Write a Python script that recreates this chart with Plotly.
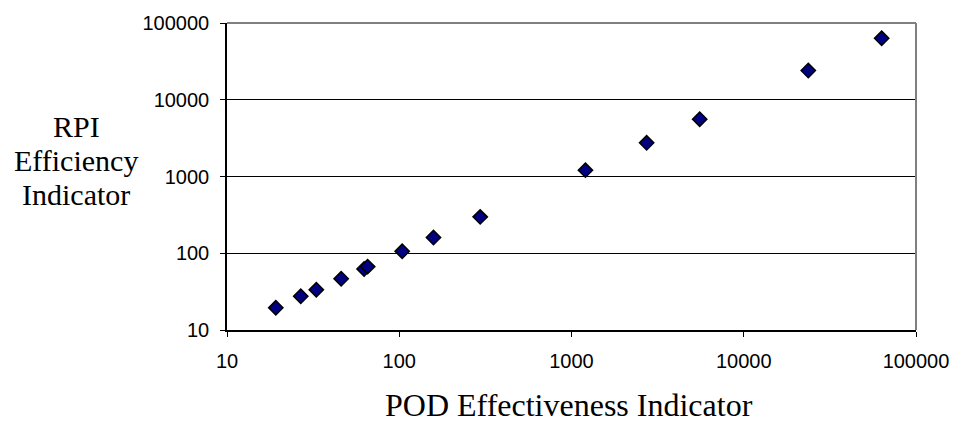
import plotly.graph_objects as go

# POD effectiveness vs RPI efficiency indicator values
pod_effectiveness = [19.2, 26.8, 33, 46, 62.5, 65.5, 104, 158, 295, 1205, 2730, 5550, 23700, 63200]
rpi_efficiency = [19.5, 27.5, 33.5, 46.5, 62.5, 67, 106, 160, 298, 1210, 2750, 5580, 24000, 63400]
tick_vals = [10, 100, 1000, 10000, 100000]
tick_text = ["10", "100", "1000", "10000", "100000"]
y_title_lines = ["RPI", "Efficiency", "Indicator"]
x_title = "POD Effectiveness Indicator"

W, H = 961, 425
L, R, T, B = 227, 39, 17, 95

fig = go.Figure()
fig.add_trace(go.Scatter(
    x=pod_effectiveness, y=rpi_efficiency, mode="markers",
    marker=dict(symbol="diamond", size=11, color="#000080",
                line=dict(color="black", width=1.5)),
    showlegend=False, cliponaxis=False,
))

tick_font = dict(family="Arial, 'Liberation Sans', sans-serif", size=20, color="black")
fig.update_xaxes(
    type="log", range=[1, 5], tickvals=tick_vals, ticktext=tick_text,
    showgrid=False, showline=True, linecolor="black", linewidth=1.5,
    ticks="outside", ticklen=5, tickcolor="black", tickwidth=1,
    tickfont=tick_font, ticklabelstandoff=7, zeroline=False,
)
fig.update_yaxes(
    type="log", range=[1, 5], tickvals=tick_vals, ticktext=tick_text,
    showgrid=True, gridcolor="black", gridwidth=1,
    showline=True, linecolor="black", linewidth=1.5,
    ticks="outside", ticklen=5, tickcolor="black", tickwidth=1,
    tickfont=tick_font, ticklabelstandoff=7, zeroline=False,
)

# grey plot-area border on top and right
fig.add_shape(type="line", xref="paper", yref="paper", x0=0, x1=1, y0=1, y1=1,
              line=dict(color="#808080", width=2), layer="above")
fig.add_shape(type="line", xref="paper", yref="paper", x0=1, x1=1, y0=0, y1=1,
              line=dict(color="#808080", width=2), layer="above")

serif = "'Times New Roman', 'Liberation Serif', serif"
plot_w = W - L - R
plot_h = H - T - B

def px_x(px):
    return (px - L) / plot_w

def px_y(py):
    return (H - B - py) / plot_h

# vertical title drawn as three tightly spaced lines
for line, cy in zip(y_title_lines, [123, 157.5, 192]):
    fig.add_annotation(
        text=line, showarrow=False, xref="paper", yref="paper",
        x=px_x(75), y=px_y(cy), xanchor="center", yanchor="middle",
        font=dict(family=serif, size=30, color="black"),
    )
fig.add_annotation(
    text=x_title, showarrow=False, xref="paper", yref="paper",
    x=px_x(572), y=px_y(406), xanchor="center", yanchor="middle",
    font=dict(family=serif, size=32, color="black"),
)

fig.update_layout(
    width=W, height=H, autosize=False,
    margin=dict(l=L, r=R, t=T, b=B),
    paper_bgcolor="white", plot_bgcolor="white",
)
fig.write_html("out.html")
